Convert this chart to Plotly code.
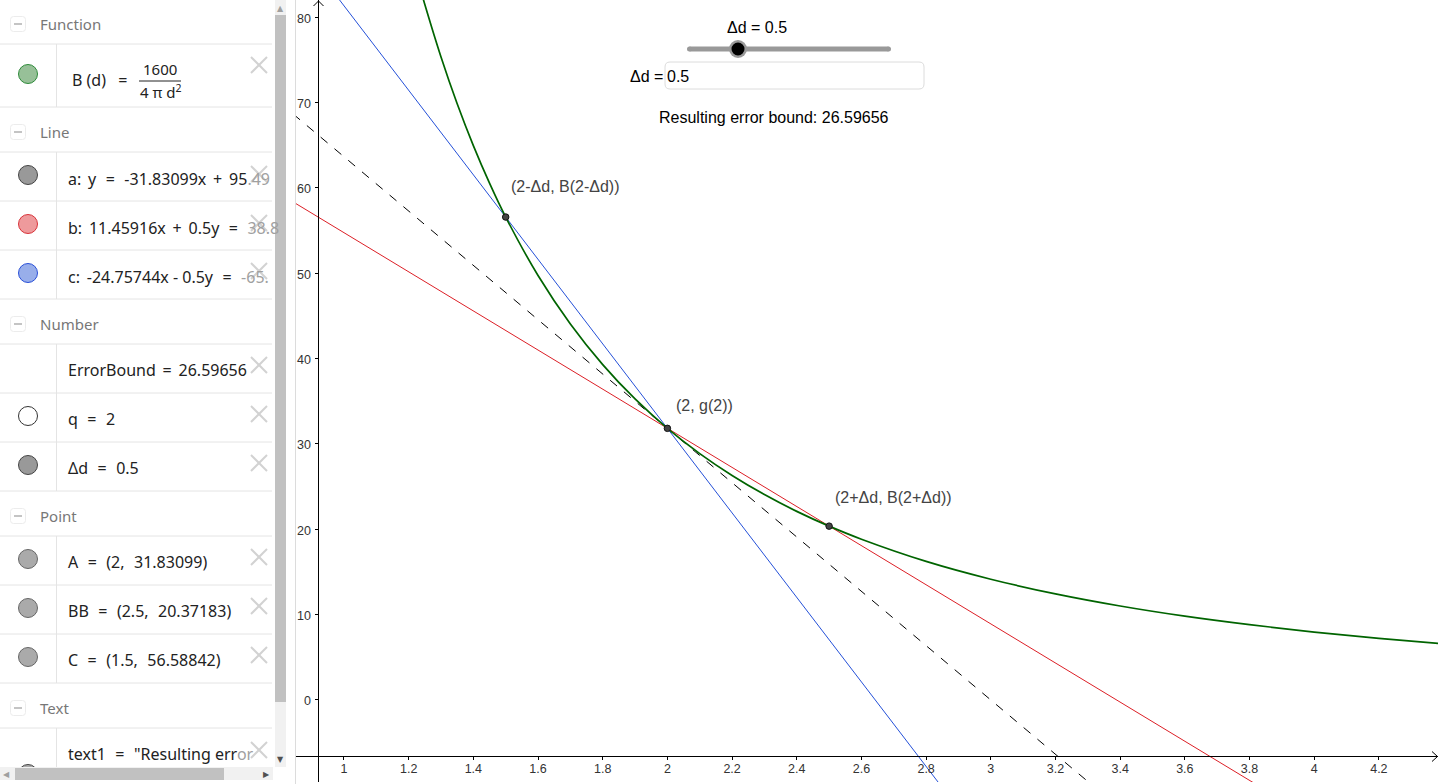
import plotly.graph_objects as go

curve_d = [1.24, 1.25, 1.3, 1.35, 1.4, 1.45, 1.5, 1.6, 1.7, 1.8, 1.9, 2.0, 2.1, 2.2, 2.3, 2.4, 2.5,
           2.6, 2.8, 3.0, 3.2, 3.4, 3.6, 3.8, 4.0, 4.2, 4.4]
curve_b = [82.81, 81.49, 75.34, 69.86, 64.96, 60.56, 56.59, 49.74, 44.06, 39.30, 35.27, 31.83, 28.87,
           26.31, 24.07, 22.10, 20.37, 18.84, 16.24, 14.15, 12.43, 11.01, 9.82, 8.82, 7.96, 7.22, 6.58]
line_a_x = [0.8, 3.4]
line_a_y = [70.02, -12.73]
line_b_x = [0.8, 3.9]
line_b_y = [59.34, -11.71]
line_c_x = [0.8, 3.0]
line_c_y = [91.25, -17.69]
point_x = [1.5, 2.0, 2.5]
point_y = [56.58842, 31.83099, 20.37183]
point_labels = ["(2-Δd, B(2-Δd))", "(2, g(2))", "(2+Δd, B(2+Δd))"]
x_ticks = [1, 1.2, 1.4, 1.6, 1.8, 2, 2.2, 2.4, 2.6, 2.8, 3, 3.2, 3.4, 3.6, 3.8, 4, 4.2]
x_tick_text = ["1", "1.2", "1.4", "1.6", "1.8", "2", "2.2", "2.4", "2.6", "2.8", "3", "3.2", "3.4",
               "3.6", "3.8", "4", "4.2"]
y_ticks = [0, 10, 20, 30, 40, 50, 60, 70, 80]

# algebra panel, thin spaces stand in for the wider maths spacing of the original
headers = ["Function", "Line", "Number", "Point", "Text"]
header_y = [24, 132, 324, 516, 708]
gray = '<span style="color:#a0a0a0">'
T = "\u2009"
EQ1 = T + " = " + T
EQ2 = T + T + " = " + T + T
PLUS = T + " + " + T
row_text = ["a:" + T + " y" + EQ2 + "-31.83099x" + PLUS + "95" + gray + ".49</span>",
            "b:" + T + " 11.45916x" + PLUS + "0.5y" + EQ2 + gray + "38.8</span>",
            "c:" + T + " -24.75744x - 0.5y" + EQ2 + gray + "-65.</span>",
            "ErrorBound" + EQ1 + "26.59656",
            "q" + EQ2 + "2",
            "Δd" + EQ2 + "0.5",
            "A" + EQ2 + "(2," + T + T + " 31.83099)",
            "BB" + EQ2 + "(2.5," + T + T + " 20.37183)",
            "C" + EQ2 + "(1.5," + T + T + " 56.58842)",
            "text1" + EQ2 + '"Resulting err' + gray + "or</span>"]
row_text_y = [179, 228, 277, 370, 419, 468, 562, 611, 660, 754]
separators = [44, 107, 152, 201, 250, 299, 344, 393, 442, 491, 536, 585, 634, 683, 728]
close_y = [65, 174, 223, 271, 365, 414, 463, 557, 606, 655, 750]
marble_y = [74, 175, 224, 273, 416, 465, 559, 608, 657, 774]
marble_fill = ["#97c098", "#999999", "#ee9a9c", "#98aeea", "#ffffff", "#999999", "#aaaaaa", "#aaaaaa",
               "#aaaaaa", "#aaaaaa"]
marble_line = ["#2e8b3a", "#444444", "#d8333a", "#2a50d8", "#333333", "#444444", "#666666", "#666666",
               "#666666", "#444444"]

W = 1440
H = 784
PANEL_FONT = "Noto Sans"
VIEW_FONT = "Liberation Sans"


def px(x):
    return x / W


def py(y):
    return 1 - y / H


def label(text, x, y, size=14, color="#000000", anchor="left", font=VIEW_FONT):
    return dict(text=text, x=px(x), y=py(y), xref="paper", yref="paper", showarrow=False,
                xanchor=anchor, yanchor="middle", borderpad=0, borderwidth=0,
                font=dict(family=font, size=size, color=color))


def rect(x0, y0, x1, y1, color):
    return dict(type="rect", xref="paper", yref="paper", x0=px(x0), y0=py(y0), x1=px(x1), y1=py(y1),
                fillcolor=color, line=dict(width=0))


def line(x0, y0, x1, y1, color, width=1):
    return dict(type="line", xref="paper", yref="paper", x0=px(x0), y0=py(y0), x1=px(x1), y1=py(y1),
                line=dict(color=color, width=width))


def circle(cx, cy, r, fill, color, width=1):
    return dict(type="circle", xref="paper", yref="paper", x0=px(cx - r), y0=py(cy - r), x1=px(cx + r),
                y1=py(cy + r), fillcolor=fill, line=dict(color=color, width=width))


def rounded(x0, y0, x1, y1, r, color, fill="#ffffff", width=1):
    path = (f"M{px(x0 + r)},{py(y0)} L{px(x1 - r)},{py(y0)} Q{px(x1)},{py(y0)} {px(x1)},{py(y0 + r)} "
            f"L{px(x1)},{py(y1 - r)} Q{px(x1)},{py(y1)} {px(x1 - r)},{py(y1)} "
            f"L{px(x0 + r)},{py(y1)} Q{px(x0)},{py(y1)} {px(x0)},{py(y1 - r)} "
            f"L{px(x0)},{py(y0 + r)} Q{px(x0)},{py(y0)} {px(x0 + r)},{py(y0)} Z")
    return dict(type="path", xref="paper", yref="paper", path=path, fillcolor=fill,
                line=dict(color=color, width=width))


def chevron(points):
    path = "M" + " L".join(f"{px(a)},{py(b)}" for a, b in points)
    return dict(type="path", xref="paper", yref="paper", path=path, line=dict(color="#000000", width=1))


fig = go.Figure()
fig.add_trace(go.Scatter(x=line_a_x, y=line_a_y, mode="lines",
                         line=dict(color="#000000", width=1, dash="9px,9px")))
fig.add_trace(go.Scatter(x=line_b_x, y=line_b_y, mode="lines", line=dict(color="#dc1f26", width=1)))
fig.add_trace(go.Scatter(x=line_c_x, y=line_c_y, mode="lines", line=dict(color="#2450d8", width=1)))
fig.add_trace(go.Scatter(x=curve_d, y=curve_b, mode="lines",
                         line=dict(color="#006400", width=1.7, shape="spline")))
fig.add_trace(go.Scatter(x=point_x, y=point_y, mode="markers",
                         marker=dict(color="#444444", size=6.5, line=dict(color="#111111", width=1))))

shapes = []
annotations = []

# panel rows
for y in separators:
    shapes.append(line(0, y, 272, y, "#e4e4e4"))
for y0, y1 in [(44, 107), (152, 299), (344, 491), (536, 683), (728, 767)]:
    shapes.append(line(56.5, y0, 56.5, y1, "#e4e4e4"))
for name, y in zip(headers, header_y):
    shapes.append(rounded(10.5, y - 7.5, 25.5, y + 7.5, 3, "#ececec"))
    shapes.append(line(14, y, 22, y, "#b0b0b0", 1.5))
    annotations.append(label(name, 40, y, 15, "#777777", font=PANEL_FONT))
for y in close_y:
    shapes.append(line(251, y - 8, 267, y + 8, "#d2d2d2", 2))
    shapes.append(line(251, y + 8, 267, y - 8, "#d2d2d2", 2))
for y, fill, color in zip(marble_y, marble_fill, marble_line):
    shapes.append(circle(28, y, 9.5, fill, color))

# B(d) row
annotations.append(label("B (d)" + T + EQ2, 72, 80, 16, "#222222", font=PANEL_FONT))
annotations.append(label("1600", 160, 69, 15, "#222222", "center", PANEL_FONT))
annotations.append(label("4 π d<sup>2</sup>", 160, 91, 15, "#222222", "center", PANEL_FONT))
shapes.append(line(139, 81, 181, 81, "#222222"))
for text, y in zip(row_text, row_text_y):
    annotations.append(label(text, 68, y, 16, "#222222", font=PANEL_FONT))

# scrollbars and divider, drawn after the marbles so they cut the last one off
shapes.append(rect(0, 767, 295, 784, "#ffffff"))
shapes.append(rect(275, 0, 286, 767, "#f1f1f1"))
shapes.append(rect(275, 15, 286, 702, "#c1c1c1"))
shapes.append(rect(0, 767, 273, 780, "#f1f1f1"))
shapes.append(rect(15, 768, 224, 780, "#c1c1c1"))
shapes.append(rect(295, 0, 296, 784, "#dcdcdc"))
annotations.append(label("▲", 280.5, 8, 8, "#a0a0a0", "center", "DejaVu Sans"))
annotations.append(label("▼", 280.5, 759, 8, "#505050", "center", "DejaVu Sans"))
annotations.append(label("◀", 6, 774, 8, "#a0a0a0", "center", "DejaVu Sans"))
annotations.append(label("▶", 266, 774, 8, "#505050", "center", "DejaVu Sans"))

# axis arrows
shapes.append(chevron([(1432, 751.5), (1437.5, 756.5), (1432, 761.5)]))
shapes.append(chevron([(313.5, 6), (318.5, 1), (323.5, 6)]))

# slider, input box and texts in the graphics view
shapes.append(line(689.5, 49, 888.5, 49, "#999999", 5))
shapes.append(circle(689.5, 49, 2.5, "#999999", "#999999", 0))
shapes.append(circle(888.5, 49, 2.5, "#999999", "#999999", 0))
shapes.append(circle(738, 49, 9, "#9a9a9a", "#9a9a9a", 0))
shapes.append(circle(738, 49, 6.5, "#000000", "#000000", 0))
shapes.append(rounded(665, 62, 924, 89, 5, "#dcdcdc"))
annotations.append(label("Δd = 0.5", 757, 28, 16, anchor="center"))
annotations.append(label("Δd =", 663, 77, 16, anchor="right"))
annotations.append(label("0.5", 667, 77, 16))
annotations.append(label("Resulting error bound: 26.59656", 659, 117, 16))

# labels of the points
for text, x, y in zip(point_labels, [511, 676, 835], [186, 405, 497]):
    annotations.append(label(text, x, y, 16, "#444444"))

fig.update_layout(
    width=W,
    height=H,
    margin=dict(l=0, r=0, t=0, b=0),
    autosize=False,
    showlegend=False,
    plot_bgcolor="#ffffff",
    paper_bgcolor="#ffffff",
    shapes=shapes,
    annotations=annotations,
    xaxis=dict(
        domain=[296 / W, 1438 / W],
        range=[0.8516, 4.3828],
        anchor="free",
        position=py(756.4),
        showgrid=False,
        zeroline=False,
        showline=True,
        linecolor="#000000",
        linewidth=1,
        ticks="outside",
        ticklen=3,
        tickcolor="#000000",
        ticklabelstandoff=-2,
        tickvals=x_ticks,
        ticktext=x_tick_text,
        tickfont=dict(family=VIEW_FONT, size=12.5, color="#333333"),
    ),
    yaxis=dict(
        domain=[py(782), 1],
        range=[-9.61, 82.02],
        anchor="free",
        position=px(318.4),
        showgrid=False,
        zeroline=False,
        showline=True,
        linecolor="#000000",
        linewidth=1,
        ticks="outside",
        ticklen=3,
        tickcolor="#000000",
        ticklabelstandoff=2,
        ticklabelshift=1,
        tickvals=y_ticks,
        tickfont=dict(family=VIEW_FONT, size=12.5, color="#333333"),
    ),
)
fig.write_html("out.html", config=dict(displayModeBar=False),
               post_script="document.body.style.margin='0';")
